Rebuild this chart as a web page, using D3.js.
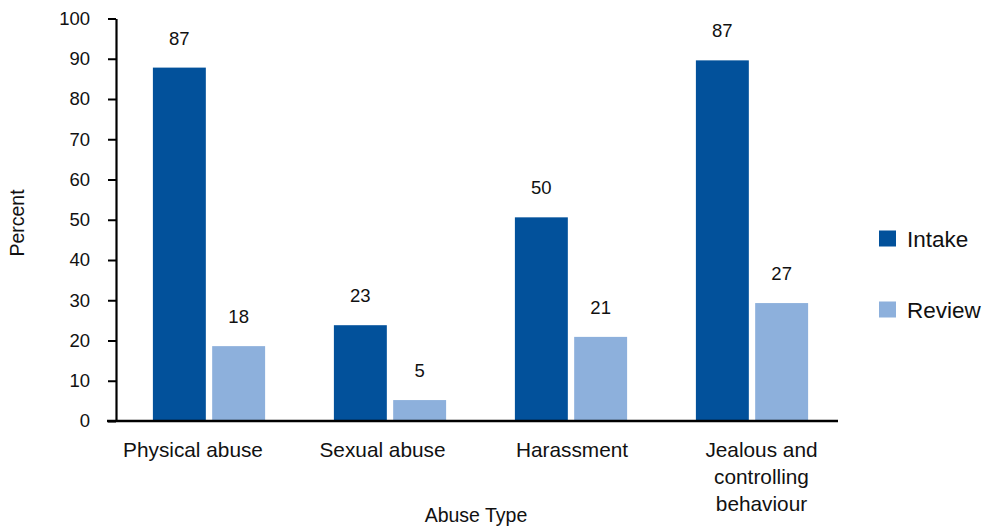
<!DOCTYPE html>
<html>
<head>
<meta charset="utf-8">
<script src="https://cdn.jsdelivr.net/npm/d3@7"></script>
<style>
  html, body { margin: 0; padding: 0; background: #fff; }
  svg { display: block; font-family: "Liberation Sans", Arial, sans-serif; }
</style>
</head>
<body>
<svg id="chart" width="986" height="526"></svg>
<script>
const categories = ["Physical abuse", "Sexual abuse", "Harassment", "Jealous and controlling behaviour"];
const categoryLines = [["Physical abuse"], ["Sexual abuse"], ["Harassment"], ["Jealous and", "controlling", "behaviour"]];
const seriesNames = ["Intake", "Review"];
const intakeValues = [87.8, 23.8, 50.6, 89.6];
const reviewValues = [18.6, 5.2, 20.9, 29.3];
const intakeLabels = ["87", "23", "50", "87"];
const reviewLabels = ["18", "5", "21", "27"];
const yTicks = [0, 10, 20, 30, 40, 50, 60, 70, 80, 90, 100];
const colors = ["#02519b", "#8db0dc"];

const svg = d3.select("#chart");
const y = d3.scaleLinear().domain([0, 100]).range([421, 18.5]);
const x0 = d3.scaleBand().domain(categories).range([118.5, 842.5]).paddingInner(0.38).paddingOuter(0.19);
const x1 = d3.scaleBand().domain(seriesNames).range([0, x0.bandwidth()]).paddingInner(0.107);
// category label positions (evenly spaced, slightly different from bar centres in the source)
const xLab = d3.scalePoint().domain(categories).range([193, 761.5]);

const rows = categories.map((c, i) => ({
  cat: c,
  vals: [
    { s: "Intake", v: intakeValues[i], lab: intakeLabels[i] },
    { s: "Review", v: reviewValues[i], lab: reviewLabels[i] }
  ]
}));

const g = svg.selectAll("g.cat").data(rows).enter().append("g")
  .attr("class", "cat")
  .attr("transform", d => `translate(${x0(d.cat)},0)`);

g.selectAll("rect").data(d => d.vals).enter().append("rect")
  .attr("x", d => x1(d.s))
  .attr("width", x1.bandwidth())
  .attr("y", d => y(d.v))
  .attr("height", d => y(0) - y(d.v))
  .attr("fill", (d, i) => colors[i]);

g.selectAll("text.val").data(d => d.vals).enter().append("text")
  .attr("class", "val")
  .attr("x", d => x1(d.s) + x1.bandwidth() / 2)
  .attr("y", d => y(d.v) - 23)
  .attr("text-anchor", "middle")
  .attr("font-size", 18.5)
  .attr("fill", "#111")
  .text(d => d.lab);

// Y axis
const yAxis = d3.axisLeft(y).tickValues(yTicks).tickSize(8).tickPadding(18).tickSizeOuter(0);
const ya = svg.append("g").attr("transform", "translate(116,0)").call(yAxis);
ya.select(".domain").attr("stroke", "#000").attr("stroke-width", 2.2);
ya.selectAll(".tick line").attr("stroke", "#000").attr("stroke-width", 2);
ya.selectAll(".tick text").attr("font-size", 18.5).attr("fill", "#111")
  .attr("font-family", "Liberation Sans, Arial, sans-serif");

// X axis line
svg.append("line").attr("x1", 107).attr("x2", 838).attr("y1", y(0)).attr("y2", y(0))
  .attr("stroke", "#000").attr("stroke-width", 2.4);

// Category labels
categoryLines.forEach((lines, i) => {
  const cx = xLab(categories[i]);
  lines.forEach((ln, j) => {
    svg.append("text")
      .attr("x", cx)
      .attr("y", 457 + j * 27)
      .attr("text-anchor", "middle")
      .attr("font-size", 20.8)
      .attr("fill", "#111")
      .text(ln);
  });
});

// Axis titles
svg.append("text").attr("x", 476).attr("y", 522).attr("text-anchor", "middle")
  .attr("font-size", 19.5).attr("fill", "#111").text("Abuse Type");
svg.append("text").attr("transform", "translate(24,223) rotate(-90)").attr("text-anchor", "middle")
  .attr("font-size", 19.5).attr("fill", "#111").text("Percent");

// Legend
const legY = [230.5, 301.5];
seriesNames.forEach((s, i) => {
  svg.append("rect").attr("x", 879).attr("y", legY[i]).attr("width", 17).attr("height", 16).attr("fill", colors[i]);
  svg.append("text").attr("x", 907).attr("y", legY[i] + 16).attr("font-size", 22.5).attr("fill", "#111").text(s);
});
</script>
</body>
</html>
